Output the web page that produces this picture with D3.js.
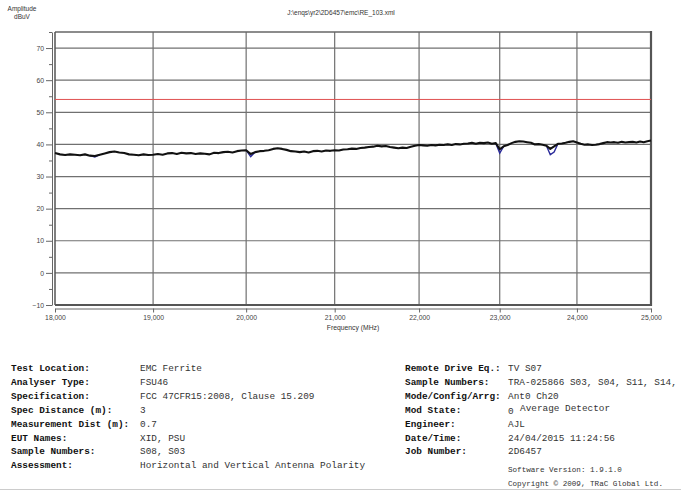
<!DOCTYPE html>
<html>
<head>
<meta charset="utf-8">
<script src="https://cdn.jsdelivr.net/npm/d3@7/dist/d3.min.js"></script>
<style>
  html, body { margin: 0; padding: 0; background: #fff; }
  svg { display: block; }
</style>
</head>
<body>
<svg id="chart" width="681" height="490"></svg>
<script>
// Sweep settings (MHz)
const sweepStart = 18000;
const sweepStep = 50;

// Measured amplitude (dBuV), one row per GHz, 50 MHz steps
const traceValues = [
  37.3,36.9,36.7,36.9,36.8,36.6,36.9,36.5,36.4,36.8,37.2,37.6,37.8,37.5,37.3,36.9,36.8,36.6,36.9,36.7,
  36.8,37.0,36.8,37.2,37.3,37.0,37.4,37.2,37.3,37.0,37.2,37.1,36.9,37.4,37.3,37.6,37.7,37.5,37.9,38.1,
  38.2,37.0,37.6,37.9,38.0,38.2,38.6,38.8,38.6,38.3,37.9,37.8,37.6,37.8,37.5,37.9,38.0,37.8,38.1,38.0,
  38.2,38.1,38.4,38.5,38.7,38.6,38.9,39.0,39.2,39.3,39.6,39.4,39.5,39.2,39.0,38.8,39.0,38.9,39.3,39.6,
  39.8,39.7,39.6,39.8,39.7,39.9,39.8,40.0,39.8,40.1,40.0,40.2,40.3,40.5,40.2,40.5,40.4,40.6,40.2,40.4,
  38.5,39.4,39.8,40.4,40.8,41.0,40.9,40.7,40.5,40.0,40.1,39.9,39.6,38.6,39.4,40.2,40.3,40.5,40.8,41.0,
  40.6,40.2,39.9,40.0,39.8,39.9,40.1,40.4,40.7,40.6,40.7,40.5,40.8,40.6,40.7,40.8,40.6,40.9,40.7,41.0,
  41.2
];

// Second sweep where it falls below the main trace (null = break)
const dipFreq   = [18350, 18400, 18450, null, 20000, 20050, 20100, null, 22950, 23000, 23050, null, 23600, 23650, 23700, 23750];
const dipValues = [36.5,  36.1,  36.8,  null, 38.2,  36.2,  37.6,  null, 40.4,  37.3,  39.4,  null, 39.6,  36.8,  37.6,  40.2];

// Limit line
const limitValue = 54;

// Axis ticks
const freqTicks = [18000, 19000, 20000, 21000, 22000, 23000, 24000, 25000];
const ampTicks = [-10, 0, 10, 20, 30, 40, 50, 60, 70];
const ampMinorTicks = [-5, 5, 15, 25, 35, 45, 55, 65, 75];

// Test details
const leftLabels = ["Test Location:", "Analyser Type:", "Specification:", "Spec Distance (m):",
  "Measurement Dist (m):", "EUT Names:", "Sample Numbers:", "Assessment:"];
const leftValues = ["EMC Ferrite", "FSU46", "FCC 47CFR15:2008, Clause 15.209", "3",
  "0.7", "XID, PSU", "S08, S03", "Horizontal and Vertical Antenna Polarity"];
const rightLabels = ["Remote Drive Eq.:", "Sample Numbers:", "Mode/Config/Arrg:", "Mod State:",
  "Engineer:", "Date/Time:", "Job Number:"];
const rightValues = ["TV S07", "TRA-025866 S03, S04, S11, S14,", "Ant0 Ch20", "0",
  "AJL", "24/04/2015 11:24:56", "2D6457"];

const svg = d3.select("#chart");
const plotL = 55, plotR = 651, plotT = 32, plotB = 305;

const x = d3.scaleLog().domain([18000, 25000]).range([plotL, plotR]);
const y = d3.scaleLinear().domain([-10, 75]).range([plotB, plotT]);

const trace = traceValues.map((v, i) => ({ f: sweepStart + i * sweepStep, v }));
const dips = dipFreq.map((f, i) => ({ f, v: dipValues[i] }));

const sans = "Liberation Sans, Arial, sans-serif";
const mono = "Liberation Mono, Courier New, monospace";

// Header texts
svg.append("text").attr("x", 22).attr("y", 11).attr("text-anchor", "middle")
  .attr("font-family", sans).attr("font-size", 6.5).attr("fill", "#333").text("Amplitude");
svg.append("text").attr("x", 22).attr("y", 18.5).attr("text-anchor", "middle")
  .attr("font-family", sans).attr("font-size", 6.5).attr("fill", "#333").text("dBuV");
svg.append("text").attr("x", 341).attr("y", 15).attr("text-anchor", "middle")
  .attr("font-family", sans).attr("font-size", 6.5).attr("fill", "#333")
  .text("J:\\enqs\\yr2\\2D6457\\emc\\RE_103.xml");

// Plot background
svg.append("rect").attr("x", plotL).attr("y", plotT).attr("width", plotR - plotL).attr("height", plotB - plotT)
  .attr("fill", "#fff");

// Grid
svg.append("g").selectAll("line").data(ampTicks.filter(t => t > -10)).join("line")
  .attr("x1", plotL).attr("x2", plotR).attr("y1", d => y(d)).attr("y2", d => y(d))
  .attr("stroke", "#707070").attr("stroke-width", 1.2);
svg.append("g").selectAll("line").data(freqTicks.slice(1, -1)).join("line")
  .attr("x1", d => x(d)).attr("x2", d => x(d)).attr("y1", plotT).attr("y2", plotB)
  .attr("stroke", "#707070").attr("stroke-width", 1.2);

// Frame
svg.append("line").attr("x1", plotL).attr("x2", plotR).attr("y1", plotT).attr("y2", plotT)
  .attr("stroke", "#666").attr("stroke-width", 1.5);
svg.append("line").attr("x1", plotL).attr("x2", plotL).attr("y1", plotT).attr("y2", plotB)
  .attr("stroke", "#555").attr("stroke-width", 1.5);
svg.append("line").attr("x1", plotR).attr("x2", plotR).attr("y1", plotT - 1).attr("y2", plotB + 1)
  .attr("stroke", "#555").attr("stroke-width", 2.2);
svg.append("line").attr("x1", plotL).attr("x2", plotR + 1).attr("y1", plotB).attr("y2", plotB)
  .attr("stroke", "#555").attr("stroke-width", 2.2);

// Limit line
svg.append("line").attr("x1", plotL).attr("x2", plotR).attr("y1", y(limitValue)).attr("y2", y(limitValue))
  .attr("stroke", "#e05050").attr("stroke-width", 1);

// Traces
const line = d3.line().defined(d => d.f !== null).x(d => x(d.f)).y(d => y(d.v));
svg.append("path").datum(dips).attr("d", line).attr("fill", "none")
  .attr("stroke", "#2a2a9a").attr("stroke-width", 1.4);
svg.append("path").datum(trace).attr("d", line).attr("fill", "none")
  .attr("stroke", "#111").attr("stroke-width", 2.1).attr("stroke-linejoin", "round");

// Y axis
svg.append("g").attr("transform", "translate(52,0)")
  .call(d3.axisLeft(y).tickValues(ampTicks).tickSizeInner(6).tickSizeOuter(0).tickPadding(2));
svg.append("g").attr("transform", "translate(52,0)")
  .call(d3.axisLeft(y).tickValues(ampMinorTicks).tickSize(3).tickFormat(""))
  .call(g => g.select(".domain").remove());

// X axis
svg.append("g").attr("transform", "translate(0,308.5)")
  .call(d3.axisBottom(x).tickValues(freqTicks).tickFormat(d3.format(",")).tickSizeInner(4).tickSizeOuter(0).tickPadding(3));

svg.selectAll(".tick line, .domain").attr("stroke", "#666");
svg.selectAll(".tick text").attr("font-family", sans).attr("font-size", 6.8).attr("fill", "#444");

svg.append("text").attr("x", (plotL + plotR) / 2).attr("y", 330).attr("text-anchor", "middle")
  .attr("font-family", sans).attr("font-size", 6.8).attr("fill", "#333").text("Frequency (MHz)");

// Test details block
const rowY = i => 371 + i * 13.9;
const info = svg.append("g").attr("font-family", mono).attr("font-size", 9.4);
info.selectAll(".ll").data(leftLabels).join("text").attr("class", "ll")
  .attr("x", 11).attr("y", (d, i) => rowY(i)).attr("font-weight", "bold").attr("fill", "#111").text(d => d);
info.selectAll(".lv").data(leftValues).join("text").attr("class", "lv")
  .attr("x", 140).attr("y", (d, i) => rowY(i)).attr("fill", "#333").text(d => d);
info.selectAll(".rl").data(rightLabels).join("text").attr("class", "rl")
  .attr("x", 405).attr("y", (d, i) => rowY(i)).attr("font-weight", "bold").attr("fill", "#111").text(d => d);
info.selectAll(".rv").data(rightValues).join("text").attr("class", "rv")
  .attr("x", 508).attr("y", (d, i) => rowY(i) + (i === 3 ? 1.5 : 0)).attr("fill", "#333").text(d => d);
info.append("text").attr("x", 520).attr("y", rowY(3) - 2).attr("fill", "#333").text("Average Detector");

svg.append("text").attr("x", 508).attr("y", 472).attr("font-family", mono).attr("font-size", 7.6)
  .attr("fill", "#333").text("Software Version: 1.9.1.0");
svg.append("text").attr("x", 508).attr("y", 486).attr("font-family", mono).attr("font-size", 7.6)
  .attr("fill", "#333").text("Copyright \u00a9 2009, TRaC Global Ltd.");

svg.append("line").attr("x1", 0).attr("x2", 681).attr("y1", 489.5).attr("y2", 489.5)
  .attr("stroke", "#ccc").attr("stroke-width", 1);
</script>
</body>
</html>
